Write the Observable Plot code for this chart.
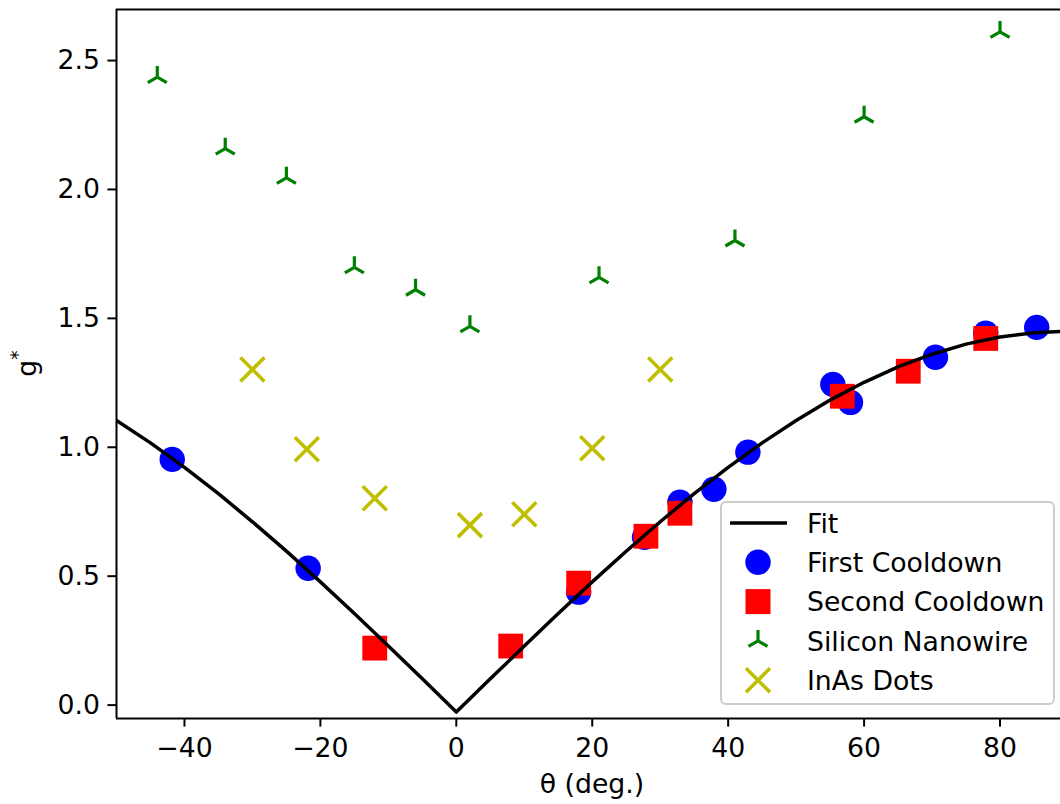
<!DOCTYPE html>
<html><head><meta charset="utf-8">
<script src="https://cdn.jsdelivr.net/npm/d3@7"></script>
<script src="https://cdn.jsdelivr.net/npm/@observablehq/plot@0.6"></script>
<style>body{margin:0;background:#fff}</style>
</head><body><div id="chart"></div>
<script>
// First Cooldown (blue circles)
const firstX = [-41.8, -21.8, 18.0, 27.7, 32.9, 37.9, 42.9, 55.4, 58.0, 70.5, 77.9, 85.4];
const firstY = [0.953, 0.531, 0.438, 0.651, 0.787, 0.837, 0.981, 1.244, 1.174, 1.349, 1.442, 1.465];
// Second Cooldown (red squares)
const secondX = [-12.0, 8.0, 18.0, 27.9, 32.9, 56.8, 66.5, 77.9];
const secondY = [0.221, 0.229, 0.473, 0.655, 0.744, 1.198, 1.295, 1.422];
// Silicon Nanowire (green tri)
const siX = [-44, -34, -25, -15, -6, 2, 21, 41, 60, 80];
const siY = [2.436, 2.158, 2.045, 1.698, 1.611, 1.469, 1.659, 1.802, 2.282, 2.611];
// InAs Dots (yellow x)
const inasX = [-30, -22, -12, 2, 10, 20, 30];
const inasY = [1.302, 0.992, 0.802, 0.698, 0.740, 0.996, 1.302];
// Fit curve
const fitX = [-50,-45,-40,-35,-30,-25,-20,-15,-10,-5,0,5,10,15,20,25,30,35,40,45,50,55,60,65,70,75,80,85,90];
const fitY = [1.104,1.017,0.922,0.820,0.711,0.597,0.478,0.355,0.229,0.102,-0.027,0.102,0.229,0.355,0.478,0.597,0.711,0.820,0.922,1.017,1.104,1.183,1.252,1.312,1.361,1.400,1.428,1.444,1.450];

const xTicks = [-40, -20, 0, 20, 40, 60, 80];
const yTicks = [0.0, 0.5, 1.0, 1.5, 2.0, 2.5];
const xDomain = [-50, 88.9];
const yDomain = [-0.052, 2.698];

const zip = (xs, ys) => xs.map((x, i) => ({x, y: ys[i]}));
const first = zip(firstX, firstY), second = zip(secondX, secondY),
      si = zip(siX, siY), inas = zip(inasX, inasY), fit = zip(fitX, fitY);

const triUp = {draw(ctx, size) {
  const r = Math.sqrt(size / Math.PI);
  ctx.moveTo(0, 0); ctx.lineTo(0, -r);
  ctx.moveTo(0, 0); ctx.lineTo(r * 0.866, r * 0.5);
  ctx.moveTo(0, 0); ctx.lineTo(-r * 0.866, r * 0.5);
}};
const cross = {draw(ctx, size) {
  const h = Math.sqrt(size / Math.PI);
  ctx.moveTo(-h, -h); ctx.lineTo(h, h);
  ctx.moveTo(-h, h); ctx.lineTo(h, -h);
}};

const fs = 26.7;
const minus = d => d < 0 ? "\u2212" + (-d) : String(d);

const plot = Plot.plot({
  width: 1060, height: 804,
  marginLeft: 116, marginRight: 0, marginTop: 9, marginBottom: 86,
  style: {fontFamily: "DejaVu Sans", fontSize: fs + "px", background: "#fff", color: "#000"},
  x: {domain: xDomain, label: null},
  y: {domain: yDomain, label: null},
  marks: [
    Plot.dot(first, {x: "x", y: "y", r: 12.7, fill: "#0000ff", stroke: "none"}),
    Plot.dot(second, {x: "x", y: "y", r: 14, symbol: "square", fill: "#ff0000", stroke: "none"}),
    Plot.dot(si, {x: "x", y: "y", r: 11, symbol: triUp, fill: "none", stroke: "#008000", strokeWidth: 3.2}),
    Plot.dot(inas, {x: "x", y: "y", r: 12, symbol: cross, fill: "none", stroke: "#bfbf00", strokeWidth: 3.6}),
    Plot.line(fit, {x: "x", y: "y", stroke: "#000", strokeWidth: 3.5, clip: true}),
    Plot.ruleX([xDomain[0]], {stroke: "#000", strokeWidth: 2}),
    Plot.ruleY([yDomain[0], yDomain[1]], {stroke: "#000", strokeWidth: 2}),
    Plot.axisX({ticks: xTicks, tickFormat: minus, tickSize: 8.6, tickPadding: 11, strokeWidth: 2, label: null}),
    Plot.axisY({ticks: yTicks, tickFormat: d3.format(".1f"), tickSize: 8.6, tickPadding: 8, strokeWidth: 2, label: null})
  ]
});
document.getElementById("chart").append(plot);

const svg = d3.select(plot);
// Axis labels
svg.append("text").attr("x", 592).attr("y", 793).attr("text-anchor", "middle")
  .attr("font-family", "DejaVu Sans").attr("font-size", fs).attr("fill", "#000").text("θ (deg.)");
const yl = svg.append("text").attr("transform", "translate(36,363.5) rotate(-90)").attr("text-anchor", "middle")
  .attr("font-family", "DejaVu Sans").attr("font-size", fs).attr("fill", "#000");
yl.append("tspan").text("g");
yl.append("tspan").attr("dy", -12).attr("font-size", fs * 0.7).text("*");

// Legend
const lg = svg.append("g").attr("text-anchor", "start");
lg.append("rect").attr("x", 721).attr("y", 502).attr("width", 333).attr("height", 202).attr("rx", 5)
  .attr("fill", "#fff").attr("fill-opacity", 0.8).attr("stroke", "#cccccc").attr("stroke-width", 2);
const items = ["Fit", "First Cooldown", "Second Cooldown", "Silicon Nanowire", "InAs Dots"];
items.forEach((t, i) => {
  const cy = 523 + i * 39.3, cx = 758;
  if (i === 0) lg.append("line").attr("x1", 730).attr("x2", 787).attr("y1", cy).attr("y2", cy).attr("stroke", "#000").attr("stroke-width", 3.5);
  if (i === 1) lg.append("circle").attr("cx", cx).attr("cy", cy).attr("r", 12.7).attr("fill", "#0000ff");
  if (i === 2) lg.append("rect").attr("x", cx - 12.5).attr("y", cy - 12.5).attr("width", 25).attr("height", 25).attr("fill", "#ff0000");
  if (i === 3) lg.append("path").attr("transform", `translate(${cx},${cy})`)
      .attr("d", `M0,0L0,-11M0,0L${11*0.866},5.5M0,0L${-11*0.866},5.5`).attr("stroke", "#008000").attr("stroke-width", 3.2).attr("fill", "none");
  if (i === 4) lg.append("path").attr("transform", `translate(${cx},${cy})`)
      .attr("d", "M-12,-12L12,12M-12,12L12,-12").attr("stroke", "#bfbf00").attr("stroke-width", 3.6).attr("fill", "none");
  lg.append("text").attr("x", 807).attr("y", cy + 0.365 * fs).attr("text-anchor", "start").attr("font-family", "DejaVu Sans")
    .attr("font-size", fs).attr("fill", "#000").text(t);
});
</script>
</body></html>
